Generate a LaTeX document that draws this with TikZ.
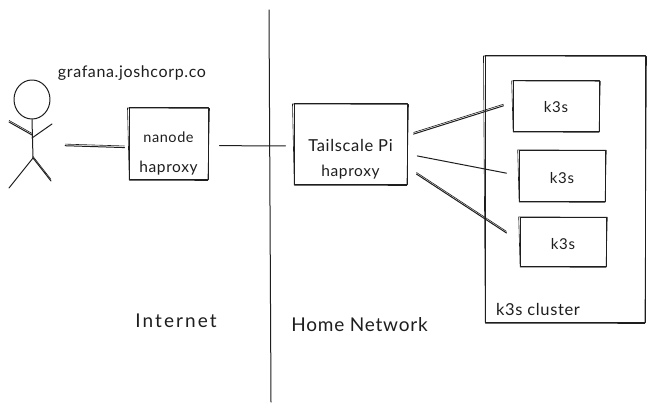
\documentclass[tikz,border=0pt]{standalone}
\usepackage{fontspec}
\setmainfont[LetterSpace=4]{Lato}
\usetikzlibrary{calc,shapes.geometric}
\definecolor{ink}{HTML}{1E1E1E}
\tikzset{
  ink line/.style={draw=ink,line width=1pt,line cap=round,line join=round},
  rough/.style={draw=ink,line width=.6pt,line cap=round,line join=round},
  twin/.style={ink line,preaction={draw=ink,line width=.6pt,transform canvas={yshift=1.6pt}}},
  box/.style={ink line,rectangle,inner sep=0pt,text=ink,align=center,fill=white},
  label/.style={text=ink,inner sep=0pt,anchor=center},
}
\newcommand{\roughbox}[2]{%
  \draw[rough] ($(#1.north west)+(-#2,.5*#2)$) -- ($(#1.north east)+(#2,.9*#2)$)
    -- ($(#1.south east)+(-.6*#2,#2)$) -- ($(#1.south west)+(.8*#2,.7*#2)$) -- cycle;}
\newcommand{\lowered}[3]{\raisebox{-#1pt}[0pt][0pt]{\fontsize{#2}{#2}\selectfont #3}}
\begin{document}
\begin{tikzpicture}[x=1pt,y=-1pt]
\useasboundingbox[fill=white] (0,0) rectangle (654,412);
% frames
\node[box,minimum width=160pt,minimum height=266pt] (cluster) at (565,189) {};
\roughbox{cluster}{1}
\node[box,font=\fontsize{13}{30}\selectfont,minimum width=79pt,minimum height=71pt] (nanode) at (168.5,143.5) {\lowered{14}{14.5}{nanode}\\\lowered{14}{15.5}{haproxy}};
\roughbox{nanode}{1}
\node[box,font=\fontsize{13}{25}\selectfont,minimum width=113pt,minimum height=80pt] (pi) at (350.5,144) {\lowered{20}{16.5}{Tailscale Pi}\\\lowered{20}{15.5}{haproxy}};
\roughbox{pi}{1}
\node[box,minimum width=86pt,minimum height=50pt] (k1) at (556,106) {\lowered{7}{15}{k3s}};
\roughbox{k1}{.8}
\node[box,minimum width=86pt,minimum height=51pt] (k2) at (562,175.5) {\lowered{7.5}{15}{k3s}};
\roughbox{k2}{.8}
\node[box,minimum width=86pt,minimum height=49pt] (k3) at (563,241.5) {\lowered{8}{15}{k3s}};
\roughbox{k3}{.8}
% stick figure
\node[ink line,ellipse,minimum width=36pt,minimum height=39pt,inner sep=0pt] (head) at (32,99.5) {};
\coordinate (hip) at (33,158);
\coordinate (handl) at (9,122);
\coordinate (handr) at (52,124);
\coordinate (chestl) at (32,135);
\coordinate (chestr) at (32,138);
\coordinate (footl) at (9,188);
\coordinate (footr) at (51,181);
\draw[ink line] (head.south) -- (hip);
\draw[twin] (handl) -- (chestl);
\draw[ink line] (handr) -- (chestr);
\draw[ink line] (hip) -- (footl);
\draw[twin] (hip) -- (footr);
\node[minimum width=44pt,minimum height=108pt,inner sep=0pt] (person) at (30,134) {};
% divider
\coordinate (divtop) at (269,10);
\coordinate (divbot) at (271,402);
\draw[ink line] (divtop) -- (divbot);
% connectors
\draw[twin,shorten <=13pt,shorten >=4pt] (person.-27.8) -- (nanode.186.6);
\draw[ink line,shorten <=11pt,shorten >=8pt] (nanode.-3.6) -- (pi.182.5);
\draw[twin,shorten <=6.3pt,shorten >=9.4pt] (pi.8.8) -- (k1.176.4);
\draw[ink line,shorten <=10pt,shorten >=12.2pt] (pi.350.5) -- (k2.180);
\draw[twin,shorten <=10.7pt,shorten >=15.5pt] (pi.-23.6) -- (k3.180);
% labels
\node[label,font=\fontsize{16}{18}\selectfont] (url) at (132,73) {grafana.joshcorp.co};
\node[label,font=\fontsize{19}{22}\selectfont\addfontfeature{LetterSpace=11}] (inet) at (176,321) {Internet};
\node[label,font=\fontsize{19}{22}\selectfont] (home) at (359.5,325) {Home Network};
\node[label,font=\fontsize{16.5}{18}\selectfont] (clab) at (538,309) {k3s cluster};
\end{tikzpicture}
\end{document}
